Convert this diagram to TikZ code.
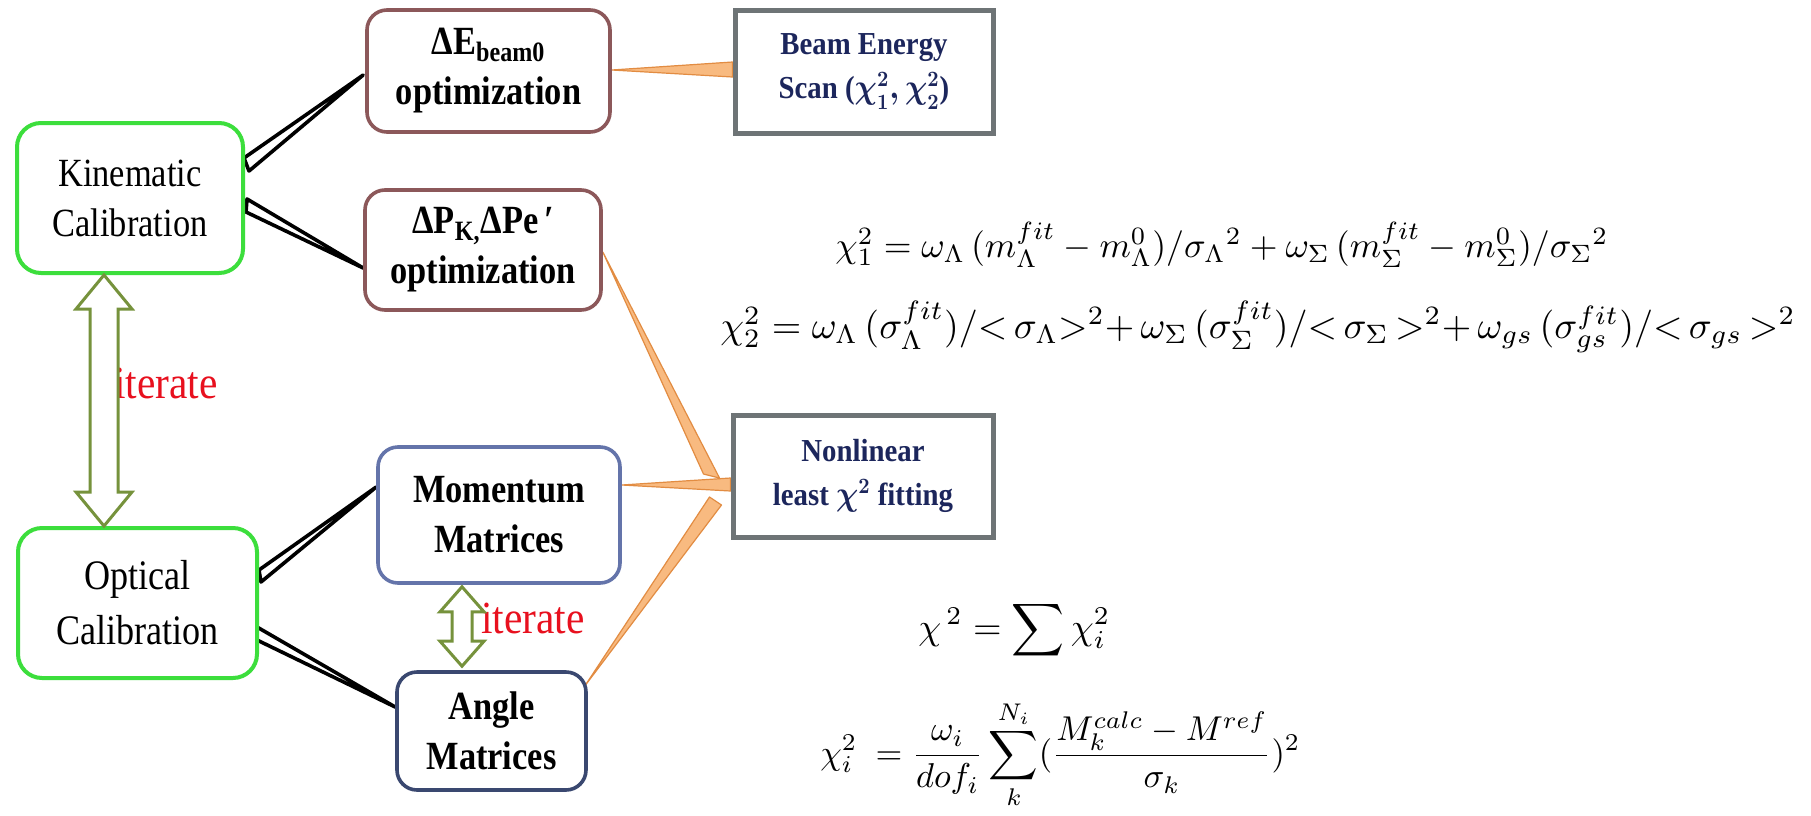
\documentclass[tikz,border=0pt]{standalone}
\usepackage[no-math]{fontspec}
\setmainfont{Liberation Serif}
\usepackage{amsmath}
\usepackage{graphicx}
\usetikzlibrary{calc,backgrounds}
\definecolor{kgreen}{RGB}{60,222,60}
\definecolor{brownb}{RGB}{140,88,90}
\definecolor{momb}{RGB}{100,116,170}
\definecolor{angb}{RGB}{58,72,112}
\definecolor{grayb}{RGB}{110,116,118}
\definecolor{navyt}{RGB}{28,38,92}
\definecolor{olivec}{RGB}{118,146,60}
\definecolor{itred}{RGB}{232,16,30}
\definecolor{orfill}{RGB}{248,186,128}
\definecolor{ordraw}{RGB}{226,140,66}
\newcommand\sq[2][0.86]{\scalebox{#1}[1]{#2}}
\tikzset{
  calbox/.style={draw=kgreen, line width=2pt, rounded corners=12pt, fill=white, align=center, inner sep=0pt,
     font=\fontsize{20pt}{25pt}\selectfont},
  optbox/.style={draw=brownb, line width=1.8pt, rounded corners=10pt, fill=white, align=center, inner sep=0pt,
     font=\bfseries\fontsize{20pt}{25pt}\selectfont},
  matbox/.style={line width=1.8pt, rounded corners=10pt, fill=white, align=center, inner sep=0pt,
     font=\bfseries\fontsize{20pt}{25pt}\selectfont},
  resbox/.style={draw=grayb, line width=2.5pt, fill=white, align=center, inner sep=0pt, text=navyt,
     font=\bfseries\boldmath\fontsize{16pt}{22pt}\selectfont},
  blackwedge/.style={draw=black, line width=1.8pt, fill=white, line join=round},
  orwedge/.style={draw=ordraw, line width=0.6pt, fill=orfill, line join=round},
  dblarrow/.style={draw=olivec, line width=1.5pt, fill=white, line join=miter},
  itlabel/.style={text=itred, inner sep=0pt, anchor=west, font=\fontsize{23pt}{27pt}\selectfont},
  formula/.style={inner sep=0pt, anchor=west}
}
\begin{document}
\begin{tikzpicture}[x=0.5pt,y=-0.5pt]
\useasboundingbox (0,0) rectangle (1811,815);

% boxes
\node[calbox, minimum width=113pt, minimum height=75pt] (kin) at (130,198) {\sq{Kinematic}\\\sq{Calibration}};
\node[calbox, minimum width=119.5pt, minimum height=75pt, font=\fontsize{21pt}{27.5pt}\selectfont] (opt) at (137.5,603) {\sq{Optical}\\\sq{Calibration}};
\node[optbox, minimum width=121.5pt, minimum height=61pt] (de) at (488.5,71) {\sq{ΔE\textsubscript{beam0}}\\\sq{optimization}};
\node[optbox, minimum width=118pt, minimum height=60pt] (dp) at (483,250) {\sq{ΔP\textsubscript{K,}ΔPe\,′}\\\sq{optimization}};
\node[matbox, draw=momb, minimum width=121pt, minimum height=68pt] (mom) at (499,515) {\sq{Momentum}\\\sq{Matrices}};
\node[matbox, draw=angb, minimum width=94.5pt, minimum height=59pt] (ang) at (491.5,731) {\sq{Angle}\\\sq{Matrices}};
\node[resbox, minimum width=129pt, minimum height=61.5pt] (beam) at (864,71.5) {\sq[0.9]{Beam Energy}\\\sq[0.9]{Scan ($\chi^2_1,\chi^2_2$)}};
\node[resbox, minimum width=130pt, minimum height=61pt] (nl) at (863,476) {\sq[0.9]{Nonlinear}\\\sq[0.9]{least $\chi^2$ fitting}};

% connectors (wedges) behind the boxes
\begin{scope}[on background layer]
\fill[white] (0,0) rectangle (1811,815);
\draw[blackwedge] ($(kin.east)+(-1,-40)$) -- ($(de.west)+(-2,4)$) -- ($(kin.east)+(4,-27)$) -- cycle;
\draw[blackwedge] ($(kin.east)+(2,1)$) -- ($(dp.west)+(0,18)$) -- ($(kin.east)+(1,14)$) -- cycle;
\draw[blackwedge] ($(opt.east)+(0,-33)$) -- ($(mom.west)+(0,-28)$) -- ($(opt.east)+(2,-21)$) -- cycle;
\draw[blackwedge] ($(opt.east)+(-2,24)$) -- ($(ang.west)+(0,-24)$) -- ($(opt.east)+(-2,37)$) -- cycle;
\draw[orwedge] ($(beam.west)+(0,-9.5)$) -- ($(de.east)+(0,-1)$) -- ($(beam.west)+(0,5.5)$) -- cycle;
\draw[orwedge] ($(nl.west)+(-27,-2)$) -- ($(dp.east)+(0,2)$) -- ($(nl.west)+(-11,2)$) -- cycle;
\draw[orwedge] ($(nl.west)+(0,2)$) -- ($(mom.east)+(0,-30)$) -- ($(nl.west)+(0,15)$) -- cycle;
\draw[orwedge] ($(nl.west)+(-21,21)$) -- ($(ang.east)+(-3,-45)$) -- ($(nl.west)+(-9,29)$) -- cycle;
\end{scope}

% iterate labels (partly covered by the arrows)
\node[itlabel] (it1) at (114,383) {\sq[0.9]{iterate}};
\node[itlabel] (it2) at (481,618) {\sq[0.9]{iterate}};

% big double arrow between the calibrations
\coordinate (T) at ($(kin.south)+(-26,0)$);
\coordinate (B) at ($(opt.north)+(-33.5,0)$);
\draw[dblarrow] (T) -- ($(T)+(28,34)$) -- ($(T)+(14,34)$) -- ($(B)+(14,-34)$) -- ($(B)+(28,-34)$) -- (B)
  -- ($(B)+(-28,-34)$) -- ($(B)+(-14,-34)$) -- ($(T)+(-14,34)$) -- ($(T)+(-28,34)$) -- cycle;

% small double arrow between the matrices
\coordinate (T2) at ($(mom.south)+(-37,2)$);
\coordinate (B2) at ($(ang.north)+(-29.5,-4)$);
\draw[dblarrow] (T2) -- ($(T2)+(22,25)$) -- ($(T2)+(10,25)$) -- ($(B2)+(10,-25)$) -- ($(B2)+(22,-25)$) -- (B2)
  -- ($(B2)+(-22,-25)$) -- ($(B2)+(-10,-25)$) -- ($(T2)+(-10,25)$) -- ($(T2)+(-22,25)$) -- cycle;

% formulas
\node[formula] (f1) at (835,245) {\resizebox{386.5pt}{!}{$\chi_1^2 = \omega_\Lambda\,(m_\Lambda^{fit}-m_\Lambda^0)/{\sigma_\Lambda}^2+\omega_\Sigma\,(m_\Sigma^{fit}-m_\Sigma^0)/{\sigma_\Sigma}^2$}};
\node[formula] (f2) at (720,327) {\resizebox{537.5pt}{!}{$\chi_2^2 = \omega_\Lambda\,(\sigma_\Lambda^{fit})/{<}\,\sigma_\Lambda{>}^2{+}\,\omega_\Sigma\,(\sigma_\Sigma^{fit})/{<}\,\sigma_\Sigma\,{>}^2{+}\,\omega_{gs}\,(\sigma_{gs}^{fit})/{<}\,\sigma_{gs}\,{>}^2$}};
\node[formula] (f3) at (918,630) {\resizebox{96pt}{!}{$\displaystyle \chi^{\,2} = \sum \chi_i^2$}};
\node[formula] (f4) at (820,755) {\resizebox{240pt}{!}{$\displaystyle \chi_i^2\ = \frac{\omega_i}{dof_i}\sum_k^{N_i}(\frac{M_k^{calc}-M^{ref}}{\sigma_k})^2$}};
\end{tikzpicture}
\end{document}
